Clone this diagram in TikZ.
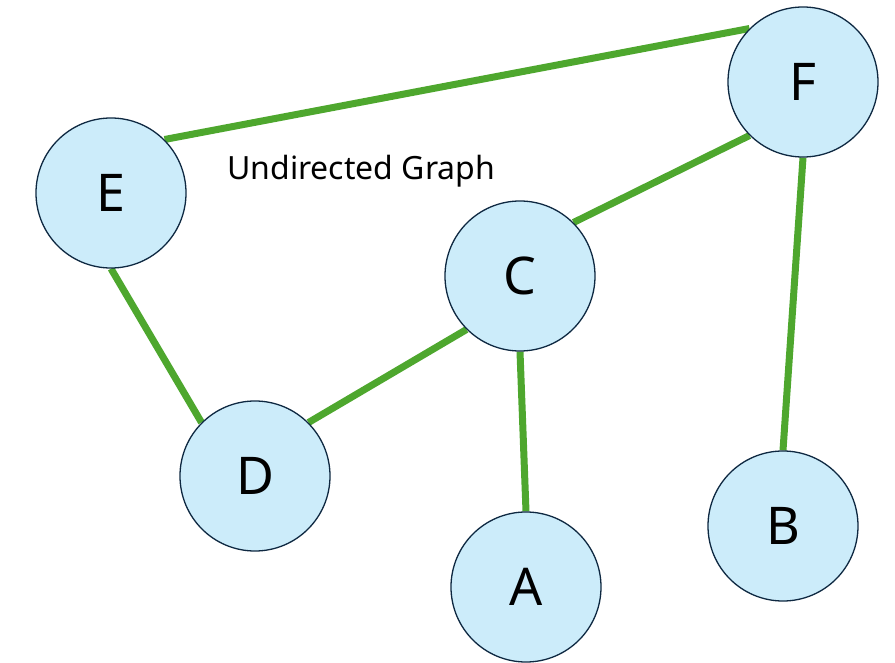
\documentclass[tikz,border=0pt]{standalone}
\usepackage{fontspec}
\setmainfont{Noto Sans}
\usetikzlibrary{backgrounds}
\definecolor{edgegreen}{RGB}{78,167,46}
\definecolor{nodefill}{RGB}{204,236,250}
\definecolor{nodeline}{RGB}{14,40,65}
\begin{document}
\begin{tikzpicture}[x=1pt,y=-1pt,
  vertex/.style={circle, draw=nodeline, line width=1.3pt, fill=nodefill,
    minimum size=150pt, inner sep=0pt, font=\fontsize{52}{52}\selectfont},
  link/.style={draw=edgegreen, line width=7pt},
  caption/.style={anchor=base west, inner sep=0pt, font=\fontsize{32}{32}\selectfont}]
\useasboundingbox (0,0) rectangle (895,663);
% vertices
\node[vertex] (F) at (803,82)  {F};
\node[vertex] (E) at (111,193) {E};
\node[vertex] (C) at (520,276) {C};
\node[vertex] (D) at (255,476) {D};
\node[vertex] (A) at (526,587) {A};
\node[vertex] (B) at (783,526) {B};
% title
\node[caption] (title) at (227,180) {Undirected Graph};
% undirected edges, kept behind the vertices
\begin{scope}[on background layer]
  \draw[link] (E.north east) -- (F.north west);
  \draw[link] (F.south west) -- (C.north east);
  \draw[link] (F.south) -- (B.north);
  \draw[link] (E.south) -- (D.north west);
  \draw[link] (C.south west) -- (D.north east);
  \draw[link] (C.south) -- (A.north);
\end{scope}
\end{tikzpicture}
\end{document}
